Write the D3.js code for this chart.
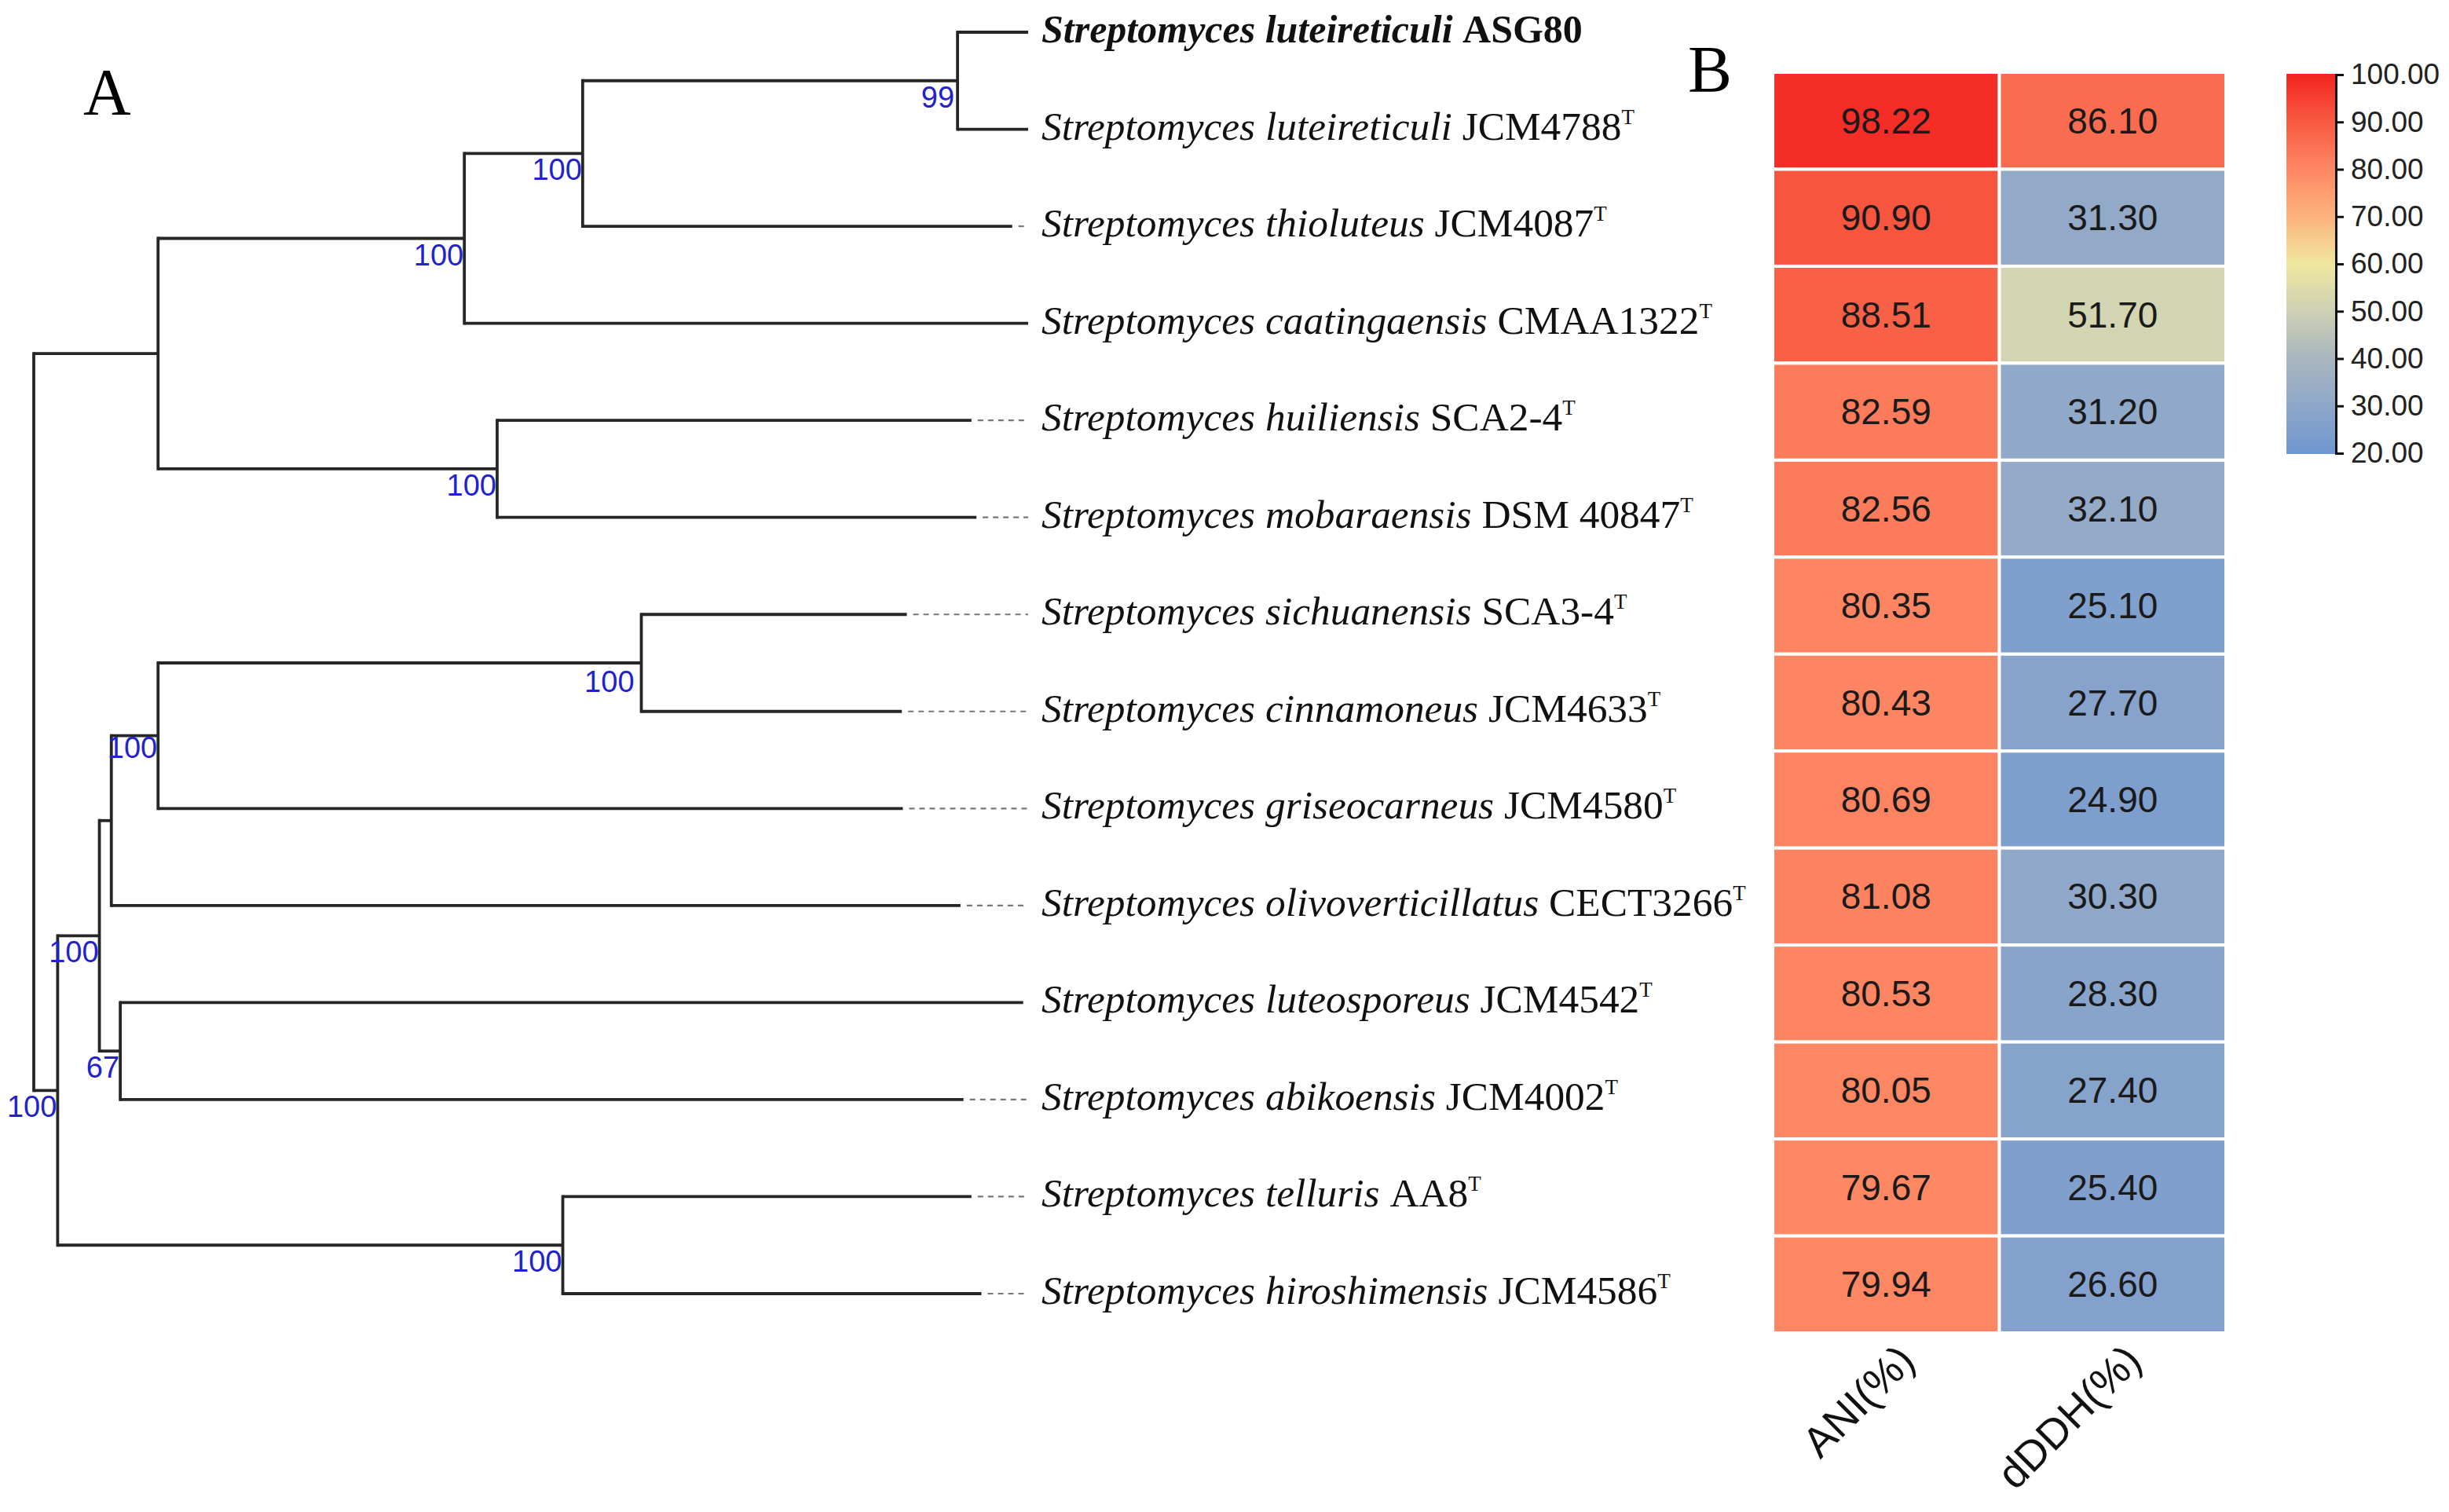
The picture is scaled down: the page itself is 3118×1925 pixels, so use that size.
<!DOCTYPE html>
<html><head><meta charset="utf-8">
<script src="https://cdnjs.cloudflare.com/ajax/libs/d3/7.8.5/d3.min.js"></script>
<style>html,body{margin:0;padding:0;background:#fff}svg{display:block}</style>
</head><body><svg id="c" width="3118" height="1925"></svg>
<script>
// ---- tree data: internal nodes and tips, with position along the distance axis ----
const internalIds = ["root","A","B","I","J","K","L","C","D","E","F","G","H"];
const internalParents = ["","root","root","A","A","I","K","B","B","C","C","E","G"];
const internalDepth = [0,0.125,0.024,0.433,0.466,0.552,0.929,0.066,0.532,0.078,0.087,0.125,0.611];
const internalSupport = [null,null,100,100,100,100,99,100,100,null,67,100,100];

const species = ["Streptomyces luteireticuli","Streptomyces luteireticuli","Streptomyces thioluteus","Streptomyces caatingaensis","Streptomyces huiliensis","Streptomyces mobaraensis","Streptomyces sichuanensis","Streptomyces cinnamoneus","Streptomyces griseocarneus","Streptomyces olivoverticillatus","Streptomyces luteosporeus","Streptomyces abikoensis","Streptomyces telluris","Streptomyces hiroshimensis"];
const strains = ["ASG80","JCM4788","JCM4087","CMAA1322","SCA2-4","DSM 40847","SCA3-4","JCM4633","JCM4580","CECT3266","JCM4542","JCM4002","AA8","JCM4586"];
const typeStrain = [false,true,true,true,true,true,true,true,true,true,true,true,true,true];
const tipParents = ["L","L","K","I","J","J","H","H","G","E","F","F","D","D"];
const tipDepth = [1,1,0.984,1,0.943,0.948,0.878,0.873,0.874,0.932,0.995,0.935,0.943,0.953];

// ---- heatmap data ----
const heatRows = strains.slice(1);
const heatCols = ["ANI(%)","dDDH(%)"];
const aniValues = [98.22,90.90,88.51,82.59,82.56,80.35,80.43,80.69,81.08,80.53,80.05,79.67,79.94];
const ddhValues = [86.10,31.30,51.70,31.20,32.10,25.10,27.70,24.90,30.30,28.30,27.40,25.40,26.60];

// ---- colour ramp ----
const rampStops = [20,30,40,50,60,70,80,90,100];
const rampColors = ["#6f96d1","#8ea7c9","#a9b6bf","#cdd0b4","#efe8a0","#fcb27c","#fe8763","#f85a42","#f32320"];
const legendTicks = [20,30,40,50,60,70,80,90,100];

const svg = d3.select("#c");
const SANS = "'Liberation Sans',Arial,sans-serif", SERIF = "'Liberation Serif','Times New Roman',serif";

// ---- scales ----
const xTree = d3.scaleLinear().domain([0,1]).range([43,1309]);
const yTip = d3.scalePoint().domain(d3.range(species.length)).range([41,1647]);
const xHeat = d3.scaleBand().domain(heatCols).range([2257,2834]);
const yHeat = d3.scaleBand().domain(heatRows).range([92,1697]);
const color = d3.scaleLinear().domain(rampStops).range(rampColors).clamp(true);
const yLegend = d3.scaleLinear().domain([20,100]).range([577,95]);

// ---- tree ----
const table = internalIds.map((id,i)=>({id,parent:internalParents[i]||null,depth:internalDepth[i],support:internalSupport[i]}))
  .concat(species.map((s,i)=>({id:"tip"+i,parent:tipParents[i],depth:tipDepth[i],tip:i})));
const root = d3.stratify().id(d=>d.id).parentId(d=>d.parent)(table);
root.eachAfter(n=>{ n.py = n.children ? (d3.min(n.children,c=>c.py)+d3.max(n.children,c=>c.py))/2 : yTip(n.data.tip); n.px = xTree(n.data.depth); });

const gTree = svg.append("g").attr("fill","none").attr("stroke","#262626").attr("stroke-width",3.8);
gTree.selectAll("path.h").data(root.descendants().slice(1)).join("path").attr("class","h")
  .attr("d",n=>`M${n.parent.px},${n.py}H${n.px}`);
gTree.selectAll("path.v").data(root.descendants().filter(n=>n.children)).join("path").attr("class","v")
  .attr("d",n=>`M${n.px},${d3.min(n.children,c=>c.py)-1.9}V${d3.max(n.children,c=>c.py)+1.9}`);
// dotted tails to the aligned tip position
svg.append("g").attr("fill","none").attr("stroke","#777").attr("stroke-width",2.2).attr("stroke-dasharray","7,6")
  .selectAll("path").data(root.leaves().filter(n=>n.data.depth<0.99)).join("path")
  .attr("d",n=>`M${n.px+8},${n.py}H${xTree(1)}`);
// support values
svg.append("g").attr("font-family",SANS).attr("font-size",38).attr("fill","#2222cc").attr("text-anchor","end")
  .selectAll("text").data(root.descendants().filter(n=>n.data.support!=null)).join("text")
  .attr("x",n=>n.px-(n.data.id==="H"?9:n.data.id==="L"?4:1)).attr("y",n=>n.py+(n.data.id==="G"?28:n.data.id==="H"?37:34)).text(n=>n.data.support);
// tip labels
const lab = svg.append("g").attr("font-family",SERIF).attr("fill","#111")
  .selectAll("text").data(species).join("text")
  .attr("font-size",(d,i)=>i===0?50:51.4)
  .attr("x",1326).attr("y",(d,i)=>yTip(i)+13).attr("font-weight",(d,i)=>i===0?"bold":null);
lab.append("tspan").attr("font-style","italic").text(d=>d);
lab.append("tspan").text((d,i)=>"\u00a0"+strains[i]);
lab.filter((d,i)=>typeStrain[i]).append("tspan").attr("font-size",27).attr("dy",-20).text("T");

// ---- panel letters ----
svg.append("text").attr("x",106).attr("y",146).attr("font-family",SERIF).attr("font-size",84).attr("fill","#000").text("A");
svg.append("text").attr("x",2149).attr("y",117).attr("font-family",SERIF).attr("font-size",84).attr("fill","#000").text("B");

// ---- heatmap ----
const cells = heatRows.flatMap((r,i)=>[{r,c:heatCols[0],v:aniValues[i]},{r,c:heatCols[1],v:ddhValues[i]}]);
const gHeat = svg.append("g");
gHeat.selectAll("rect").data(cells).join("rect")
  .attr("x",d=>xHeat(d.c)).attr("y",d=>yHeat(d.r)).attr("width",xHeat.bandwidth()).attr("height",yHeat.bandwidth())
  .attr("fill",d=>color(d.v)).attr("stroke","#fff").attr("stroke-width",4);
gHeat.selectAll("text").data(cells).join("text")
  .attr("x",d=>xHeat(d.c)+xHeat.bandwidth()/2).attr("y",d=>yHeat(d.r)+yHeat.bandwidth()/2+16)
  .attr("text-anchor","middle").attr("font-family",SANS).attr("font-size",46).attr("fill","#1a1a1a")
  .text(d=>d.v.toFixed(2));

// column labels rotated
svg.append("g").attr("font-family",SANS).attr("font-size",54).attr("fill","#111").attr("text-anchor","end")
  .selectAll("text").data(heatCols).join("text")
  .attr("transform",d=>`translate(${xHeat(d)+xHeat.bandwidth()/2+26},1722) rotate(-45)`).attr("dy","0.35em").text(d=>d);

// ---- colour legend ----
const grad = svg.append("defs").append("linearGradient").attr("id","ramp").attr("x1",0).attr("x2",0).attr("y1",1).attr("y2",0);
grad.selectAll("stop").data(rampStops).join("stop")
  .attr("offset",d=>(d-20)/80).attr("stop-color",d=>color(d));
svg.append("rect").attr("x",2911).attr("y",94).attr("width",63).attr("height",484).attr("fill","url(#ramp)");
const axis = d3.axisRight(yLegend).tickValues(legendTicks).tickFormat(d3.format(".2f")).tickSize(10).tickPadding(9);
const gAxis = svg.append("g").attr("transform","translate(2974,0)").call(axis);
gAxis.selectAll("path,line").attr("stroke","#111").attr("stroke-width",3);
gAxis.selectAll("text").attr("font-family",SANS).attr("font-size",37).attr("fill","#222");
</script></body></html>
